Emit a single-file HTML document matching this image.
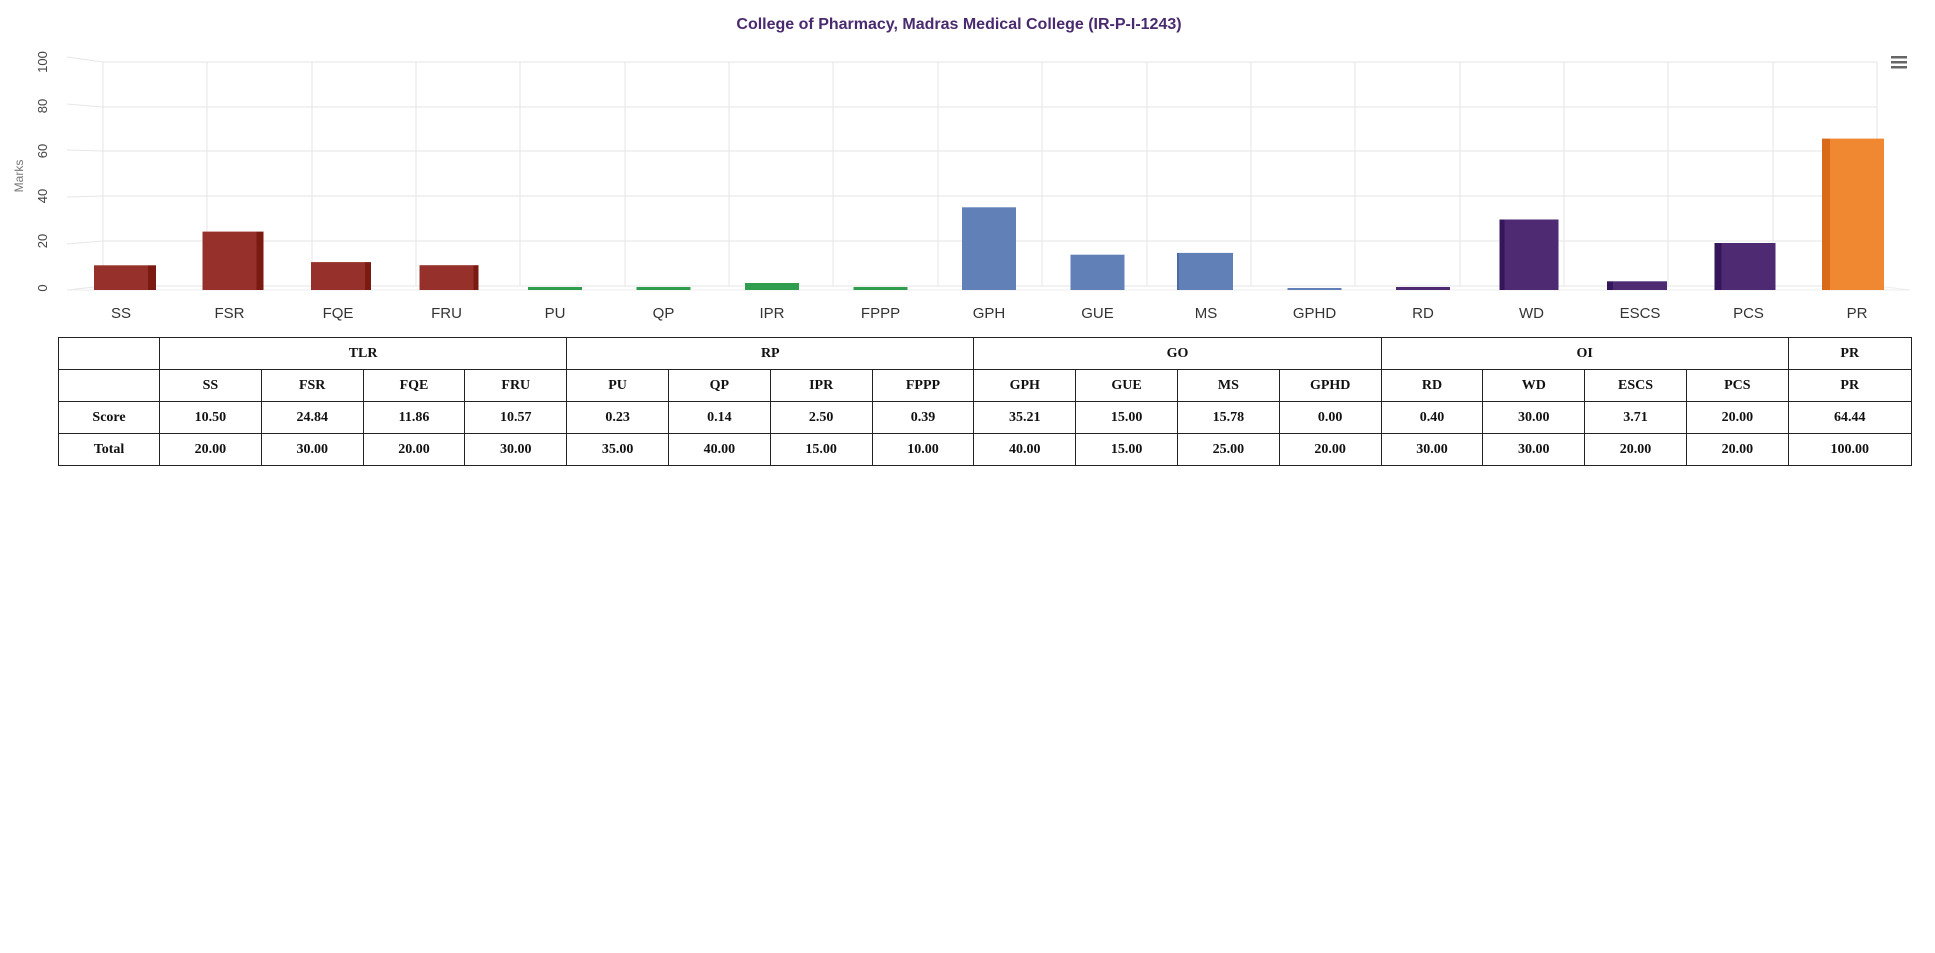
<!DOCTYPE html>
<html><head><meta charset="utf-8"><style>
body{margin:0;background:#fff;width:1935px;height:953px;overflow:hidden;position:relative;font-family:"Liberation Sans",Arial,sans-serif}
svg{position:absolute;left:0;top:0}
table{position:absolute;left:58px;top:337px;border-collapse:collapse;font-family:"Liberation Serif",serif;font-weight:bold;font-size:14px;color:#111}
td{border:1.5px solid #222;height:31px;text-align:center;padding:0}
</style></head><body>
<svg width="1935" height="330" xmlns="http://www.w3.org/2000/svg">
<text x="959" y="29" text-anchor="middle" font-size="16" font-weight="bold" fill="#4a2a6e">College of Pharmacy, Madras Medical College (IR-P-I-1243)</text>
<g stroke="#e6e6e6" stroke-width="1" fill="none">
<path d="M103 62H1877M103 107H1877M103 151H1877M103 196H1877M103 241H1877M103 286H1877"/>
<path d="M67 57L103 62M67 104L103 107M67 150L103 151M67 197L103 196M67 244L103 241M67 290L103 286"/>
<path d="M103 62V286M207 62V286M312 62V286M416 62V286M520 62V286M625 62V286M729 62V286M833 62V286M938 62V286M1042 62V286M1147 62V286M1251 62V286M1355 62V286M1460 62V286M1564 62V286M1668 62V286M1773 62V286M1877 62V286"/>
<path d="M1877 286L1910 290M67 290L1910 290" stroke="#eee"/>
</g>
<g font-size="13" fill="#444" text-anchor="middle">
<text transform="translate(47,62) rotate(-90)">100</text>
<text transform="translate(47,106) rotate(-90)">80</text>
<text transform="translate(47,151) rotate(-90)">60</text>
<text transform="translate(47,196) rotate(-90)">40</text>
<text transform="translate(47,241) rotate(-90)">20</text>
<text transform="translate(47,288) rotate(-90)">0</text>
<text transform="translate(23,176) rotate(-90)" font-size="12" fill="#777">Marks</text>
</g>
<g fill="#666"><rect x="1891" y="56" width="16" height="2.5"/><rect x="1891" y="61" width="16" height="2.5"/><rect x="1891" y="66" width="16" height="2.5"/></g>
<g>
<rect x="94" y="265.3" width="54" height="24.7" fill="#96302a"/><rect x="148" y="265.3" width="8" height="24.7" fill="#7a1a10"/>
<rect x="202.5" y="231.6" width="54" height="58.4" fill="#96302a"/><rect x="256.5" y="231.6" width="7" height="58.4" fill="#7a1a10"/>
<rect x="311" y="262.1" width="54" height="27.9" fill="#96302a"/><rect x="365" y="262.1" width="6" height="27.9" fill="#7a1a10"/>
<rect x="419.5" y="265.2" width="54" height="24.8" fill="#96302a"/><rect x="473.5" y="265.2" width="5" height="24.8" fill="#7a1a10"/>
<rect x="528" y="287" width="54" height="3" fill="#2e9e4e"/>
<rect x="636.5" y="287" width="54" height="3" fill="#2e9e4e"/>
<rect x="745" y="283" width="54" height="7" fill="#2e9e4e"/>
<rect x="853.5" y="287" width="54" height="3" fill="#2e9e4e"/>
<rect x="962" y="207.3" width="54" height="82.7" fill="#6180b8"/>
<rect x="1070.5" y="254.7" width="54" height="35.3" fill="#6180b8"/>
<rect x="1179" y="252.9" width="54" height="37.1" fill="#6180b8"/><rect x="1177" y="252.9" width="2" height="37.1" fill="#4a6aa2"/>
<rect x="1287.5" y="288" width="54" height="2" fill="#6180b8"/>
<rect x="1396" y="287" width="54" height="3" fill="#4e2a72"/>
<rect x="1504.5" y="219.5" width="54" height="70.5" fill="#4e2a72"/><rect x="1499.5" y="219.5" width="5" height="70.5" fill="#35165a"/>
<rect x="1613" y="281.3" width="54" height="8.7" fill="#4e2a72"/><rect x="1607" y="281.3" width="6" height="8.7" fill="#35165a"/>
<rect x="1721.5" y="243" width="54" height="47" fill="#4e2a72"/><rect x="1714.5" y="243" width="7" height="47" fill="#35165a"/>
<rect x="1830" y="138.6" width="54" height="151.4" fill="#f08731"/><rect x="1822" y="138.6" width="8" height="151.4" fill="#d86a1a"/>
</g>
<g font-size="15" fill="#333" text-anchor="middle">
<text x="121" y="318">SS</text><text x="229.5" y="318">FSR</text><text x="338" y="318">FQE</text><text x="446.5" y="318">FRU</text>
<text x="555" y="318">PU</text><text x="663.5" y="318">QP</text><text x="772" y="318">IPR</text><text x="880.5" y="318">FPPP</text>
<text x="989" y="318">GPH</text><text x="1097.5" y="318">GUE</text><text x="1206" y="318">MS</text><text x="1314.5" y="318">GPHD</text>
<text x="1423" y="318">RD</text><text x="1531.5" y="318">WD</text><text x="1640" y="318">ESCS</text><text x="1748.5" y="318">PCS</text><text x="1857" y="318">PR</text>
</g>
</svg>
<table>
<colgroup><col style="width:101px"><col span="16" style="width:101.8px"><col style="width:123px"></colgroup>
<tr><td></td><td colspan="4">TLR</td><td colspan="4">RP</td><td colspan="4">GO</td><td colspan="4">OI</td><td>PR</td></tr>
<tr><td></td><td>SS</td><td>FSR</td><td>FQE</td><td>FRU</td><td>PU</td><td>QP</td><td>IPR</td><td>FPPP</td><td>GPH</td><td>GUE</td><td>MS</td><td>GPHD</td><td>RD</td><td>WD</td><td>ESCS</td><td>PCS</td><td>PR</td></tr>
<tr><td>Score</td><td>10.50</td><td>24.84</td><td>11.86</td><td>10.57</td><td>0.23</td><td>0.14</td><td>2.50</td><td>0.39</td><td>35.21</td><td>15.00</td><td>15.78</td><td>0.00</td><td>0.40</td><td>30.00</td><td>3.71</td><td>20.00</td><td>64.44</td></tr>
<tr><td>Total</td><td>20.00</td><td>30.00</td><td>20.00</td><td>30.00</td><td>35.00</td><td>40.00</td><td>15.00</td><td>10.00</td><td>40.00</td><td>15.00</td><td>25.00</td><td>20.00</td><td>30.00</td><td>30.00</td><td>20.00</td><td>20.00</td><td>100.00</td></tr>
</table>
</body></html>
